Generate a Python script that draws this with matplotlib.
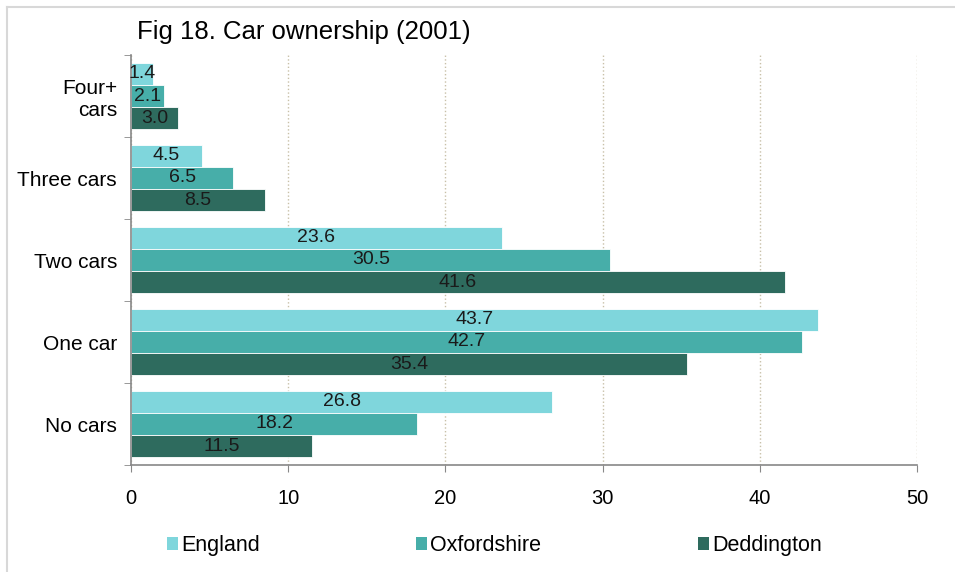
import numpy as np
import matplotlib.pyplot as plt
from matplotlib.lines import Line2D
from matplotlib.patches import Rectangle

plt.rcParams['font.family'] = ['Liberation Sans', 'DejaVu Sans']

categories = ['No cars', 'One car', 'Two cars', 'Three cars', 'Four+\ncars']
england = [26.8, 43.7, 23.6, 4.5, 1.4]
oxfordshire = [18.2, 42.7, 30.5, 6.5, 2.1]
deddington = [11.5, 35.4, 41.6, 8.5, 3.0]
series_names = ['England', 'Oxfordshire', 'Deddington']
colors = ['#7fd6dc', '#47aea9', '#2e6b5e']

W, H = 955, 572
fig = plt.figure(figsize=(W/100, H/100), dpi=100)
# outer frame only on top and left, like the cropped original
fig.lines.append(Line2D([7/W, 1], [1-7/H, 1-7/H], transform=fig.transFigure, color='#d8d8d8', lw=1.5))
fig.lines.append(Line2D([7/W, 7/W], [0, 1-7/H], transform=fig.transFigure, color='#d8d8d8', lw=1.5))

ax = fig.add_axes([131/W, 1-465/H, (917-131)/W, (465-55)/H])

y = np.arange(len(categories))
h = 0.27
for i, (vals, name, c) in enumerate(zip([england, oxfordshire, deddington], series_names, colors)):
    yy = y + h - i*h
    ax.barh(yy, vals, height=h, color=c, edgecolor='white', lw=0.6, label=name, zorder=2)
    for v, yv in zip(vals, yy):
        ax.text(v/2, yv, f'{v:.1f}', ha='center', va='center', fontsize=14, color='#1a1a1a', zorder=3)

ax.set_xlim(0, 50)
ax.set_ylim(-0.5, len(categories)-0.5)
ax.set_xticks(range(0, 51, 10))
ax.tick_params(axis='x', labelsize=14.5, length=5, color='#888888', pad=12)
ax.set_yticks(y)
ax.set_yticklabels(categories, fontsize=15)
ax.tick_params(axis='y', length=0, pad=10)
ax.set_yticks(np.arange(-0.5, len(categories), 1), minor=True)
ax.tick_params(axis='y', which='minor', length=5, color='#888888')
ax.grid(axis='x', linestyle=':', color='#c8c0a8', lw=1, zorder=0)
for s in ['top', 'right']:
    ax.spines[s].set_visible(False)
for s in ['left', 'bottom']:
    ax.spines[s].set_color('#888888')
    ax.spines[s].set_linewidth(1.2)

fig.text(137/W, 1-32/H, 'Fig 18. Car ownership (2001)', fontsize=18.5, va='center', ha='left')

# legend drawn by hand so the three entries sit where the original has them
leg_x = [167, 416, 698]
leg_y = 543
for lx, name, c in zip(leg_x, series_names, colors):
    fig.patches.append(Rectangle((lx/W, (H-leg_y-6.5)/H), 11/W, 13/H, transform=fig.transFigure,
                                 facecolor=c, edgecolor='none'))
    fig.text((lx+14)/W, 1-leg_y/H, name, fontsize=15.5, va='center_baseline', ha='left')

fig.savefig('out.png', dpi=100)
